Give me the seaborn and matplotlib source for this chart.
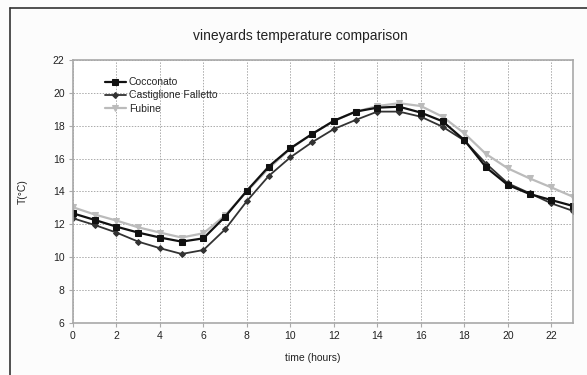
import matplotlib
matplotlib.use("Agg")
import matplotlib.pyplot as plt
import seaborn as sns
import pandas as pd
from matplotlib.lines import Line2D

hours = list(range(24))
cocconato = [12.67, 12.27, 11.86, 11.5, 11.2, 10.95, 11.15, 12.47, 14.05, 15.51, 16.63, 17.5,
             18.3, 18.86, 19.1, 19.16, 18.8, 18.27, 17.13, 15.47, 14.4, 13.85, 13.48, 13.12]
castiglione = [12.37, 11.96, 11.5, 10.95, 10.55, 10.2, 10.44, 11.7, 13.42, 14.94, 16.08, 17.0,
               17.8, 18.35, 18.86, 18.86, 18.55, 17.94, 17.1, 15.7, 14.5, 13.9, 13.28, 12.82]
fubine = [13.04, 12.6, 12.23, 11.82, 11.5, 11.2, 11.46, 12.55, 14.0, 15.4, 16.6, 17.5,
          18.3, 18.85, 19.2, 19.37, 19.2, 18.55, 17.54, 16.28, 15.41, 14.8, 14.25, 13.68]
series_names = ["Cocconato", "Castiglione Falletto", "Fubine"]
y_ticks = [6, 8, 10, 12, 14, 16, 18, 20, 22]
x_ticks = [0, 2, 4, 6, 8, 10, 12, 14, 16, 18, 20, 22]

sns.set_theme(style="white")
plt.rcParams['font.family'] = ['Liberation Sans', 'DejaVu Sans']

fig = plt.figure(figsize=(5.87, 3.75), dpi=100, facecolor="#fcfcfc")
ax = fig.add_axes([73 / 587, 52 / 375, 500 / 587, 263 / 375])
ax.set_facecolor("white")

colors = ["#111111", "#333333", "#bbbbbb"]
markers = ["s", "D", "v"]
msizes = [5, 3, 4]
lws = [1.6, 1.3, 1.6]
data = [cocconato, castiglione, fubine]
for i in [2, 1, 0]:
    df = pd.DataFrame({"hour": hours, "T": data[i]})
    sns.lineplot(data=df, x="hour", y="T", ax=ax, color=colors[i], marker=markers[i],
                 markersize=msizes[i], linewidth=lws[i], markeredgecolor=colors[i],
                 label=series_names[i])

ax.set_xlim(0, 23)
ax.set_ylim(6, 22)
ax.set_xticks(x_ticks)
ax.set_yticks(y_ticks)
ax.tick_params(labelsize=7.5, length=3, width=0.8, color="#aaaaaa", pad=3,
               labelcolor="#222222", bottom=True, left=True)
ax.grid(True, linestyle=(0, (1.5, 1.5)), color="#aaaaaa", linewidth=0.7)
for s in ax.spines.values():
    s.set_visible(True)
    s.set_color("#a8a8a8")
    s.set_linewidth(1.2)
    s.set_zorder(5)
ax.set_xlabel("time (hours)", fontsize=7.5, color="#222222")
ax.xaxis.set_label_coords(0.48, -0.115)
ax.set_ylabel("T(°C)", fontsize=7.5, color="#222222")
ax.yaxis.set_label_coords(-0.09, 0.5)
fig.text(300 / 587, 1 - 36 / 375, "vineyards temperature comparison", ha="center",
         va="center", fontsize=10, color="#222222")

handles, labels = ax.get_legend_handles_labels()
order = [labels.index(n) for n in series_names]
ax.legend([handles[k] for k in order], [labels[k] for k in order], loc="upper left",
          bbox_to_anchor=(0.055, 0.95), frameon=False, fontsize=7.5, handlelength=2.0,
          handletextpad=0.3, labelspacing=0.3, borderaxespad=0)

# outer frame (left and top edges visible, as in the reference)
fig.lines.append(Line2D([10 / 587, 10 / 587], [0, 1 - 7.5 / 375], transform=fig.transFigure,
                        color="#333333", linewidth=1.2))
fig.lines.append(Line2D([10 / 587, 1], [1 - 7.5 / 375, 1 - 7.5 / 375], transform=fig.transFigure,
                        color="#333333", linewidth=1.2))
fig.savefig("out.png", dpi=100, facecolor=fig.get_facecolor())
